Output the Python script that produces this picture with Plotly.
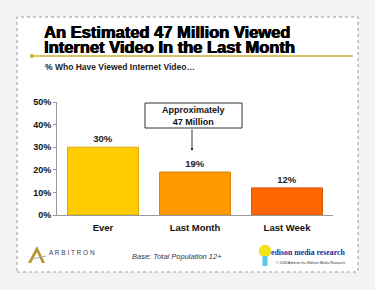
import plotly.graph_objects as go

categories = ["Ever", "Last Month", "Last Week"]
values = [30, 19, 12]
value_labels = ["30%", "19%", "12%"]
bar_colors = ["#FFCC00", "#FF9900", "#FF6600"]
bar_lines = ["#D9A800", "#D97F00", "#D45200"]
y_ticks = [0, 10, 20, 30, 40, 50]
y_tick_labels = ["0%", "10%", "20%", "30%", "40%", "50%"]

W, H = 375, 290
L, R, T, B = 57, 42, 102, 75
PW, PH = W - L - R, H - T - B


def px(x):
    return (x - L) / PW


def py(y):
    return (H - B - y) / PH


FONT = "Liberation Sans"
HEAVY = "0.6px 0 0 #000, -0.3px 0 0 #000"

fig = go.Figure()
fig.add_trace(go.Bar(
    x=categories, y=values,
    marker=dict(color=bar_colors, line=dict(color=bar_lines, width=1)),
    text=value_labels, textposition="outside",
    textfont=dict(family=FONT, size=9.5, color="#222222", weight="bold"),
    cliponaxis=False, width=0.77,
))

shapes = [
    dict(type="rect", xref="paper", yref="paper", x0=px(17), x1=px(358), y0=py(272), y1=py(17),
         fillcolor="white", line=dict(color="#9a9a9a", width=1, dash="dot"), layer="below"),
    dict(type="line", xref="paper", yref="paper", x0=px(32), x1=px(353), y0=py(56), y1=py(56),
         line=dict(color="#C8B030", width=1.5)),
    dict(type="circle", xref="paper", yref="paper", x0=px(30), x1=px(34), y0=py(58), y1=py(54),
         fillcolor="#C8B030", line=dict(color="#C8B030", width=0)),
    dict(type="rect", xref="paper", yref="paper", x0=px(145), x1=px(242), y0=py(128), y1=py(103),
         fillcolor="white", line=dict(color="#333333", width=1)),
    dict(type="path", xref="paper", yref="paper",
         path=f"M {px(28)} {py(263)} L {px(37)} {py(246)} L {px(45)} {py(263)} L {px(42)} {py(263)} L {px(37)} {py(252)} L {px(31)} {py(263)} Z",
         fillcolor="#B8962E", line=dict(color="#B8962E", width=0)),
    dict(type="line", xref="paper", yref="paper", x0=px(32), x1=px(46), y0=py(259), y1=py(256),
         line=dict(color="#9AA8C8", width=1)),
    dict(type="circle", xref="paper", yref="paper", x0=px(259), x1=px(271), y0=py(257), y1=py(245),
         fillcolor="#F2E21A", line=dict(color="#E0CC10", width=0.5)),
    dict(type="rect", xref="paper", yref="paper", x0=px(262.5), x1=px(267.5), y0=py(266), y1=py(256),
         fillcolor="#5BC8E8", line=dict(color="#5BC8E8", width=0)),
]

annotations = [
    dict(xref="paper", yref="paper", x=px(42), y=py(32), xanchor="left", yanchor="middle",
         text="An Estimated 47 Million Viewed", height=13, valign="middle",
         showarrow=False, font=dict(family=FONT, size=16.5, color="#000000", weight="bold", shadow=HEAVY)),
    dict(xref="paper", yref="paper", x=px(42), y=py(46.5), xanchor="left", yanchor="middle",
         text="Internet Video In the Last Month", height=13, valign="middle",
         showarrow=False, font=dict(family=FONT, size=16.5, color="#000000", weight="bold", shadow=HEAVY)),
    dict(xref="paper", yref="paper", x=px(43), y=py(67), xanchor="left", yanchor="middle",
         text="% Who Have Viewed Internet Video…",
         showarrow=False, font=dict(family=FONT, size=8.5, color="#222222", weight="bold")),
    dict(xref="paper", yref="paper", x=px(193.5), y=py(115.5), xanchor="center", yanchor="middle",
         text="<b>Approximately<br>47 Million</b>", showarrow=False,
         font=dict(family=FONT, size=9, color="#111111")),
    dict(xref="paper", yref="paper", x=px(192), y=py(151), ax=0, ay=-23, text="",
         showarrow=True, arrowhead=2, arrowsize=0.6, arrowwidth=1, arrowcolor="#333333"),
    dict(xref="paper", yref="paper", x=px(47), y=py(252), xanchor="left", yanchor="middle",
         text="A R B I T R O N", showarrow=False,
         font=dict(family=FONT, size=6.5, color="#3a3a5a")),
    dict(xref="paper", yref="paper", x=px(177), y=py(256), xanchor="center", yanchor="middle",
         text="<i>Base: Total Population 12+</i>", showarrow=False,
         font=dict(family=FONT, size=7.5, color="#333333")),
    dict(xref="paper", yref="paper", x=px(347), y=py(252), xanchor="right", yanchor="middle",
         text="edison media research", showarrow=False,
         font=dict(family="Liberation Serif", size=7.8, color="#1a2a9a", weight="bold")),
    dict(xref="paper", yref="paper", x=px(347), y=py(263), xanchor="right", yanchor="middle",
         text="© 2006 Arbitron Inc./Edison Media Research", showarrow=False,
         font=dict(family=FONT, size=3.5, color="#333333")),
]

fig.update_layout(
    width=W, height=H,
    margin=dict(l=L, r=R, t=T, b=B, pad=0),
    paper_bgcolor="#f3f3f3", plot_bgcolor="rgba(0,0,0,0)",
    showlegend=False,
    shapes=shapes, annotations=annotations,
    xaxis=dict(showgrid=False, showline=True, linecolor="#999999", linewidth=1,
               ticks="", tickfont=dict(family=FONT, size=9.5, color="#111111", weight="bold"),
               ticklabelstandoff=4),
    yaxis=dict(range=[0, 50], tickvals=y_ticks, ticktext=y_tick_labels,
               showgrid=False, showline=True, linecolor="#999999", linewidth=1,
               ticks="outside", ticklen=3, tickcolor="#999999", zeroline=False,
               tickfont=dict(family=FONT, size=9, color="#111111", weight="bold")),
    font=dict(family=FONT),
)

fig.write_html("out.html")
